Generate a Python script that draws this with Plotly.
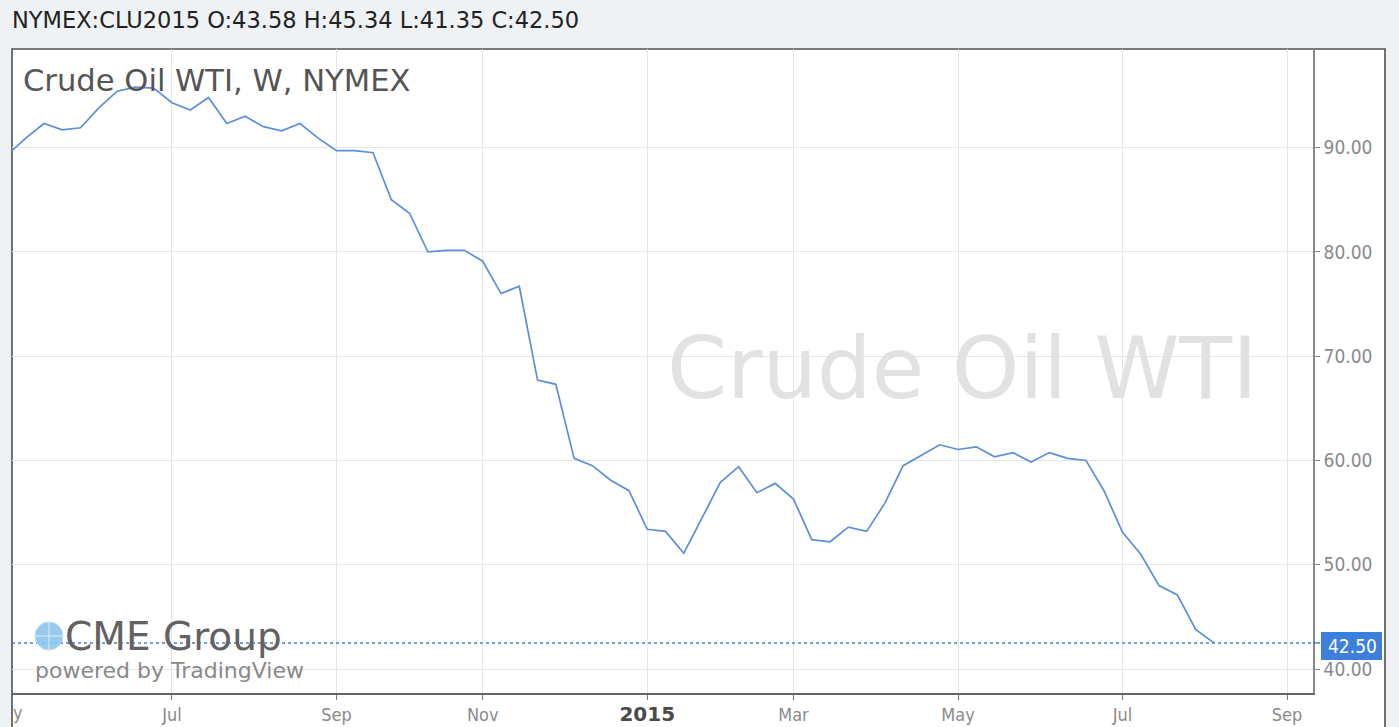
import plotly.graph_objects as go
import pandas as pd

# ---------------- data ----------------
# weekly bars (TradingView weekly, Sunday-dated), axis categories incl. empty weeks to Sep 2015
weeks = [d.strftime("%Y-%m-%d") for d in pd.date_range("2014-05-04", "2015-09-13", freq="7D")]

close = [
    89.3, 90.9, 92.3, 91.7, 91.9, 93.8, 95.4, 95.8, 95.7, 94.3,
    93.6, 94.8, 92.3, 93.0, 92.0, 91.6, 92.3, 90.9, 89.7, 89.7,
    89.5, 85.0, 83.7, 80.0, 80.15, 80.15, 79.1, 76.0, 76.7, 67.7,
    67.3, 60.2, 59.5, 58.1, 57.1, 53.4, 53.2, 51.1, 54.5, 57.9,
    59.4, 56.9, 57.8, 56.3, 52.4, 52.2, 53.6, 53.2, 55.9, 59.5,
    60.5, 61.5, 61.05, 61.3, 60.35, 60.75, 59.85, 60.75, 60.2, 60.0,
    57.05, 53.1, 51.0, 48.0, 47.1, 43.8, 42.5,
]

tick_weeks = ["2014-07-06", "2014-09-07", "2014-11-02", "2015-01-04",
              "2015-03-01", "2015-05-03", "2015-07-05", "2015-09-06"]
tick_labels = ["Jul", "Sep", "Nov",
               "<span style='color:#4a4a4a;font-size:20px;font-family:DejaVu Sans'><b>2015</b></span>",
               "Mar", "May", "Jul", "Sep"]
y_ticks = [40, 50, 60, 70, 80, 90]
y_tick_labels = ["40.00", "50.00", "60.00", "70.00", "80.00", "90.00"]

last_close = 42.50
header_text = "NYMEX:CLU2015 O:43.58 H:45.34 L:41.35 C:42.50"
title_text = "Crude Oil WTI, W, NYMEX"
watermark_text = "Crude Oil WTI"

# ---------------- layout geometry ----------------
W, H = 1399, 727
L, R, T, B = 12, 1313, 49, 693  # plot area in pixels


def px(x):
    return (x - L) / (R - L)


def py(y):
    return (B - y) / (B - T)


FONT = "DejaVu Sans"
COND = "DejaVu Sans Condensed, DejaVu Sans"
LINE_COLOR = "#5b8fd9"

fig = go.Figure()
fig.add_trace(go.Scatter(
    x=weeks[:len(close)], y=close, mode="lines",
    line=dict(color=LINE_COLOR, width=1.7), hoverinfo="skip", showlegend=False,
))

shapes = [
    # white chart frame
    dict(type="rect", xref="paper", yref="paper", x0=px(L), x1=px(1385), y0=py(745), y1=py(T),
         fillcolor="white", line=dict(color="#505050", width=1.6), layer="below"),
    # last price dotted line
    dict(type="line", xref="paper", yref="y", x0=0, x1=1, y0=last_close, y1=last_close,
         line=dict(color="#3f7fd5", width=1.4, dash="dot")),
    # price label box
    dict(type="rect", xref="paper", yref="paper", x0=px(1321), x1=px(1382), y0=py(660), y1=py(632),
         fillcolor="#3c7fdc", line=dict(width=0)),
    # tick to the price box
    dict(type="line", xref="paper", yref="y", x0=1, x1=px(1320), y0=last_close, y1=last_close,
         line=dict(color="#3f7fd5", width=1.4)),
    # globe icon
    dict(type="circle", xref="paper", yref="paper", x0=px(35), x1=px(63), y0=py(650), y1=py(622),
         fillcolor="#8cc6ea", line=dict(color="#b7dcf3", width=1), opacity=0.9),
    dict(type="line", xref="paper", yref="paper", x0=px(49), x1=px(49), y0=py(650), y1=py(622),
         line=dict(color="#d8eefa", width=1)),
    dict(type="line", xref="paper", yref="paper", x0=px(35), x1=px(63), y0=py(636), y1=py(636),
         line=dict(color="#d8eefa", width=1)),
]

annotations = [
    dict(text=header_text, xref="paper", yref="paper", x=px(10), y=py(20), xanchor="left",
         yanchor="middle", showarrow=False, font=dict(family=FONT, size=22.5, color="#222222")),
    dict(text=title_text, xref="paper", yref="paper", x=px(21), y=py(80), xanchor="left",
         yanchor="middle", showarrow=False, font=dict(family=FONT, size=30.6, color="#555555")),
    dict(text=watermark_text, xref="paper", yref="paper", x=px(962), y=py(368), xanchor="center",
         yanchor="middle", showarrow=False, font=dict(family=FONT, size=86, color="#e2e2e2")),
    dict(text="CME Group", xref="paper", yref="paper", x=px(63), y=py(636), xanchor="left",
         yanchor="middle", showarrow=False, font=dict(family=FONT, size=39, color="#626262")),
    dict(text="powered by TradingView", xref="paper", yref="paper", x=px(33), y=py(670), xanchor="left",
         yanchor="middle", showarrow=False, font=dict(family=FONT, size=22, color="#8a8a8a")),
    dict(text=f"{last_close:.2f}", xref="paper", yref="paper", x=px(1352), y=py(646), xanchor="center",
         yanchor="middle", showarrow=False, font=dict(family=COND, size=19, color="white")),
    dict(text="y", xref="paper", yref="paper", x=px(11), y=py(712), xanchor="left",
         yanchor="middle", showarrow=False, font=dict(family=COND, size=18, color="#8a8a8a")),
]

fig.update_layout(
    width=W, height=H, autosize=False,
    margin=dict(l=L, r=W - R, t=T, b=H - B, pad=0),
    paper_bgcolor="#eff2f5", plot_bgcolor="rgba(0,0,0,0)",
    shapes=shapes, annotations=annotations, showlegend=False,
    xaxis=dict(
        type="category", categoryorder="array", categoryarray=weeks,
        range=[0.25, 71.42], tickmode="array", tickvals=tick_weeks, ticktext=tick_labels,
        showgrid=True, gridcolor="#e6e6e6", gridwidth=1,
        showline=True, linecolor="#666666", linewidth=1.5,
        ticks="outside", ticklen=5, tickcolor="#777777",
        tickfont=dict(family=COND, size=18, color="#8a8a8a"),
        zeroline=False, fixedrange=True, automargin=False,
    ),
    yaxis=dict(
        side="right", range=[37.7, 99.45], tickmode="array", tickvals=y_ticks, ticktext=y_tick_labels,
        showgrid=True, gridcolor="#e6e6e6", gridwidth=1,
        showline=True, linecolor="#888888", linewidth=1.5,
        ticks="outside", ticklen=5, tickcolor="#888888",
        tickfont=dict(family=COND, size=19, color="#8a8a8a"),
        zeroline=False, fixedrange=True, automargin=False,
    ),
)

fig.write_html("out.html", config={"displayModeBar": False},
               post_script="document.body.style.margin='0';document.body.style.overflow='hidden';")
